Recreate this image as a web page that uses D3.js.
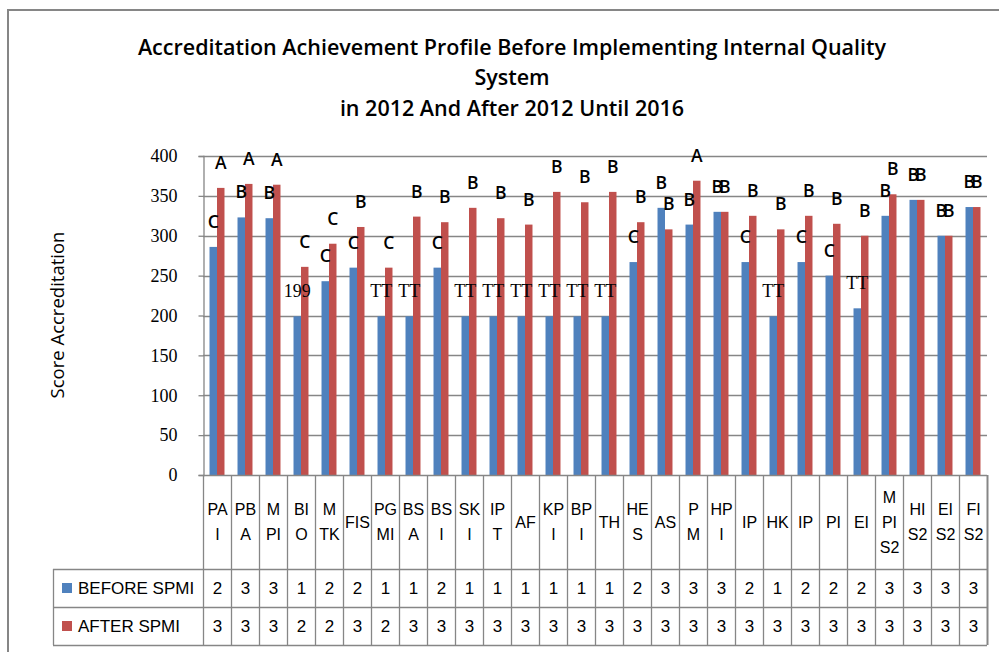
<!DOCTYPE html>
<html>
<head>
<meta charset="utf-8">
<script src="https://cdn.jsdelivr.net/npm/d3@7"></script>
<style>
  body { margin: 0; background: #fff; }
  svg { display: block; }
</style>
</head>
<body>
<div id="canvas"></div>
<script>
// Chart data.
const CATEGORIES = ["PA I", "PB A", "M PI", "BI O", "M TK", "FIS", "PG MI", "BS A", "BS I", "SK I",
                    "IP T", "AF", "KP I", "BP I", "TH", "HE S", "AS", "P M", "HP I", "IP",
                    "HK", "IP ", "PI", "EI", "M PI S2", "HI S2", "EI S2", "FI S2"];
const BEFORE_VALUES = [286, 323, 322, 199, 243, 260, 199, 199, 260, 199,
                       199, 199, 199, 199, 199, 267, 335, 314, 330, 267,
                       199, 267, 250, 209, 325, 345, 300, 336];
const AFTER_VALUES = [360, 365, 364, 261, 290, 311, 260, 324, 317, 335,
                      322, 314, 355, 342, 355, 317, 308, 369, 330, 325,
                      308, 325, 315, 300, 352, 345, 300, 336];
const BEFORE_LABELS = ["C", "B", "B", "199", "C", "C", "TT", "TT", "C", "TT",
                       "TT", "TT", "TT", "TT", "TT", "C", "B", "B", "B", "C",
                       "TT", "C", "C", "TT", "B", "B", "B", "B"];
const AFTER_LABELS = ["A", "A", "A", "C", "C", "B", "C", "B", "B", "B",
                      "B", "B", "B", "B", "B", "B", "B", "A", "B", "B",
                      "B", "B", "B", "B", "B", "B", "B", "B"];
const BEFORE_TABLE = [2, 3, 3, 1, 2, 2, 1, 1, 2, 1, 1, 1, 1, 1, 1, 2, 3, 3, 3, 2, 1, 2, 2, 2, 3, 3, 3, 3];
const AFTER_TABLE = [3, 3, 3, 2, 2, 3, 2, 3, 3, 3, 3, 3, 3, 3, 3, 3, 3, 3, 3, 3, 3, 3, 3, 3, 3, 3, 3, 3];
const SERIES = ["BEFORE SPMI", "AFTER SPMI"];
const Y_TICKS = [0, 50, 100, 150, 200, 250, 300, 350, 400];
const TITLE_LINES = ["Accreditation Achievement Profile Before Implementing Internal Quality",
                     "System",
                     "in 2012 And After 2012 Until 2016"];

// Dimension and color constants.
const WIDTH = 999;
const HEIGHT = 652;
const PLOT_LEFT = 203;
const PLOT_RIGHT = 987;
const PLOT_TOP = 156;
const PLOT_BOTTOM = 475;
const HEADER_BOTTOM = 569;
const ROW_HEIGHT = 38;
const LEGEND_LEFT = 53;

const BLUE = "#4F81BD";
const RED = "#C0504D";
const GRID = "#868686";
const SANS = "'Liberation Sans', Arial, sans-serif";
const OPEN = "'Open Sans', 'Liberation Sans', sans-serif";
const SERIF = "'Liberation Serif', 'Times New Roman', serif";

const svg = d3.select("#canvas")
              .append("svg")
              .attr("width", WIDTH)
              .attr("height", HEIGHT);

// Scales.
const xScale = d3.scaleBand()
                 .domain(CATEGORIES)
                 .range([PLOT_LEFT, PLOT_RIGHT]);
const subScale = d3.scaleBand()
                   .domain(SERIES)
                   .range([0, xScale.bandwidth()])
                   .paddingOuter(0.87);
const yScale = d3.scaleLinear()
                 .domain([0, 400])
                 .range([PLOT_BOTTOM, PLOT_TOP]);

// Outer chart border (top and left only, the rest is cropped).
svg.append("path")
   .attr("d", `M8,${HEIGHT} V10 H${WIDTH}`)
   .attr("fill", "none")
   .attr("stroke", GRID)
   .attr("stroke-width", 2);

// Title.
const titleY = [47, 77, 108];
svg.append("g")
   .selectAll("text")
   .data(TITLE_LINES)
   .join("text")
   .attr("x", 512)
   .attr("y", (d, i) => titleY[i])
   .attr("dy", "0.35em")
   .attr("text-anchor", "middle")
   .attr("font-family", OPEN)
   .attr("font-weight", 600)
   .attr("font-size", 21.5)
   .attr("fill", "#000")
   .text(d => d);

// Gridlines.
svg.append("g")
   .selectAll("line")
   .data(Y_TICKS.filter(d => d > 0))
   .join("line")
   .attr("x1", PLOT_LEFT)
   .attr("x2", PLOT_RIGHT)
   .attr("y1", d => Math.round(yScale(d)) + 0.5)
   .attr("y2", d => Math.round(yScale(d)) + 0.5)
   .attr("stroke", GRID)
   .attr("stroke-width", 1.3);

// Y axis.
const yAxisGroup = svg.append("g")
                      .attr("transform", `translate(${PLOT_LEFT + 0.5},0)`)
                      .call(d3.axisLeft(yScale).tickValues(Y_TICKS).tickSize(5).tickPadding(21));
yAxisGroup.select(".domain").attr("stroke", GRID).attr("stroke-width", 1.3);
yAxisGroup.selectAll(".tick line").attr("stroke", GRID).attr("stroke-width", 1.3);
yAxisGroup.selectAll(".tick text")
          .attr("font-family", SERIF)
          .attr("font-size", 18)
          .attr("fill", "#000");

// Y axis title.
svg.append("text")
   .attr("transform", `translate(58, 315) rotate(-90)`)
   .attr("text-anchor", "middle")
   .attr("dy", "0.35em")
   .attr("font-family", OPEN)
   .attr("font-size", 18.5)
   .attr("fill", "#000")
   .text("Score Accreditation");

// Bars.
const seriesData = [
    { name: SERIES[0], values: BEFORE_VALUES, labels: BEFORE_LABELS, color: BLUE },
    { name: SERIES[1], values: AFTER_VALUES, labels: AFTER_LABELS, color: RED }
];

seriesData.forEach(s => {
    svg.append("g")
       .selectAll("rect")
       .data(CATEGORIES)
       .join("rect")
       .attr("x", (c) => xScale(c) + subScale(s.name))
       .attr("width", subScale.bandwidth())
       .attr("y", (c, i) => yScale(s.values[i]))
       .attr("height", (c, i) => PLOT_BOTTOM - yScale(s.values[i]))
       .attr("fill", s.color);
});

// Data labels above the bars, drawn after all bars so nothing covers them.
const isGrade = (t) => /^[ABC]$/.test(t);
seriesData.forEach(s => {
    svg.append("g")
       .selectAll("text")
       .data(CATEGORIES)
       .join("text")
       .attr("x", (c) => xScale(c) + subScale(s.name) + subScale.bandwidth() / 2)
       .attr("y", (c, i) => yScale(s.values[i]) - 19)
       .attr("text-anchor", "middle")
       .attr("font-family", (c, i) => isGrade(s.labels[i]) ? OPEN : SERIF)
       .attr("font-weight", (c, i) => isGrade(s.labels[i]) ? 600 : "normal")
       .attr("font-size", (c, i) => isGrade(s.labels[i]) ? 17.5 : 18)
       .attr("fill", "#000")
       .text((c, i) => s.labels[i]);
});

// X axis line.
svg.append("line")
   .attr("x1", PLOT_LEFT)
   .attr("x2", PLOT_RIGHT)
   .attr("y1", PLOT_BOTTOM + 0.5)
   .attr("y2", PLOT_BOTTOM + 0.5)
   .attr("stroke", GRID)
   .attr("stroke-width", 1.3);

// Data table: column lines.
const tableBottom = HEADER_BOTTOM + ROW_HEIGHT * 2;
const table = svg.append("g");
table.selectAll("line.col")
     .data(CATEGORIES.map(c => xScale(c)).concat([PLOT_RIGHT]))
     .join("line")
     .attr("class", "col")
     .attr("x1", d => Math.round(d) + 0.5)
     .attr("x2", d => Math.round(d) + 0.5)
     .attr("y1", PLOT_BOTTOM)
     .attr("y2", tableBottom)
     .attr("stroke", GRID)
     .attr("stroke-width", (d, i) => i === CATEGORIES.length ? 2 : 1.3);

// Row lines.
table.selectAll("line.row")
     .data([HEADER_BOTTOM, HEADER_BOTTOM + ROW_HEIGHT, tableBottom])
     .join("line")
     .attr("class", "row")
     .attr("x1", LEGEND_LEFT)
     .attr("x2", PLOT_RIGHT)
     .attr("y1", d => d + 0.5)
     .attr("y2", d => d + 0.5)
     .attr("stroke", GRID)
     .attr("stroke-width", 1.3);

// Legend cell left border.
table.append("line")
     .attr("x1", LEGEND_LEFT + 0.5)
     .attr("x2", LEGEND_LEFT + 0.5)
     .attr("y1", HEADER_BOTTOM)
     .attr("y2", tableBottom)
     .attr("stroke", GRID)
     .attr("stroke-width", 1.3);

// Category labels, wrapped into lines.
const headerMid = (PLOT_BOTTOM + HEADER_BOTTOM) / 2;
const LINE_GAP = 25;
CATEGORIES.forEach(c => {
    const parts = c.trim().split(" ");
    const startY = headerMid - (parts.length - 1) * LINE_GAP / 2;
    table.append("text")
         .attr("x", xScale(c) + xScale.bandwidth() / 2 + 0.5)
         .attr("text-anchor", "middle")
         .attr("font-family", SANS)
         .attr("font-size", 16)
         .attr("fill", "#000")
         .selectAll("tspan")
         .data(parts)
         .join("tspan")
         .attr("x", xScale(c) + xScale.bandwidth() / 2 + 0.5)
         .attr("y", (d, i) => startY + i * LINE_GAP)
         .attr("dy", "0.35em")
         .text(d => d);
});

// Legend entries and table values.
const tableRows = [
    { name: SERIES[0], values: BEFORE_TABLE, color: BLUE },
    { name: SERIES[1], values: AFTER_TABLE, color: RED }
];
tableRows.forEach((r, ri) => {
    const cy = HEADER_BOTTOM + ROW_HEIGHT * ri + ROW_HEIGHT / 2;
    table.append("rect")
         .attr("x", 62)
         .attr("y", cy - 5)
         .attr("width", 10)
         .attr("height", 10)
         .attr("fill", r.color);
    table.append("text")
         .attr("x", 78)
         .attr("y", cy)
         .attr("dy", "0.35em")
         .attr("font-family", SANS)
         .attr("font-size", 17)
         .attr("fill", "#000")
         .text(r.name);
    table.selectAll(null)
         .data(CATEGORIES)
         .join("text")
         .attr("x", c => xScale(c) + xScale.bandwidth() / 2 + 0.5)
         .attr("y", cy)
         .attr("dy", "0.35em")
         .attr("text-anchor", "middle")
         .attr("font-family", SANS)
         .attr("font-size", 17)
         .attr("fill", "#000")
         .text((c, i) => r.values[i]);
});
</script>
</body>
</html>
